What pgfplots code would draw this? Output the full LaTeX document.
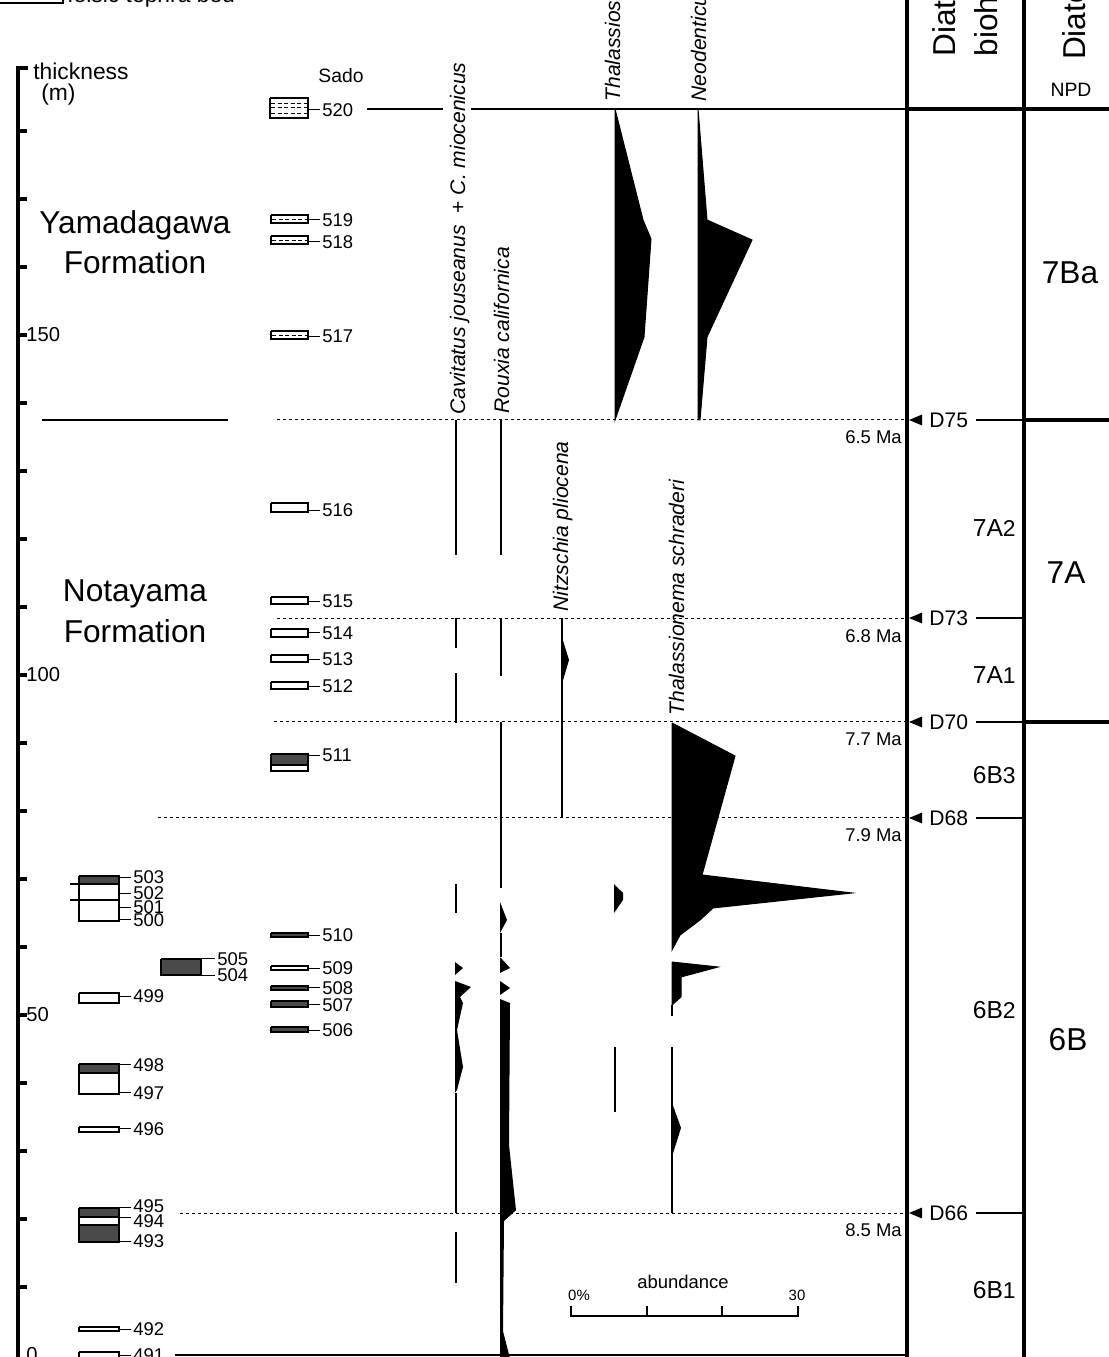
\documentclass[border=0pt]{standalone}
\usepackage{pgfplots}
\pgfplotsset{compat=1.18}
\usepackage{fontspec}
\setmainfont{Liberation Sans}
\definecolor{teph}{HTML}{4A4A4A}
\newcommand{\fs}[1]{\fontsize{#1}{#1}\selectfont}
% bed: x1 x2 ytop ybottom
\newcommand{\wbed}[4]{\addplot[draw=black, fill=white, line width=0.25mm] coordinates {(#1,#3) (#2,#3) (#2,#4) (#1,#4) (#1,#3)};}
\newcommand{\dbed}[4]{\addplot[draw=black, fill=teph, line width=0.25mm] coordinates {(#1,#3) (#2,#3) (#2,#4) (#1,#4) (#1,#3)};}
\newcommand{\hbed}[4]{\addplot[draw=black, fill=white, line width=0.25mm] coordinates {(#1,#3) (#2,#3) (#2,#4) (#1,#4) (#1,#3)};}
% leader: x1 x2 y label
\newcommand{\lab}[4]{\addplot[line width=0.2mm] coordinates {(#1,#3) (#2,#3)};
  \node[anchor=west, inner sep=0pt, font=\fs{10.5}] at (axis cs:#2,#3) {\hspace{0.4mm}#4};}
\newcommand{\seg}[3]{\addplot[line width=0.45mm] coordinates {(#1,#2) (#1,#3)};}
\newcommand{\dotl}[3]{\addplot[line width=0.2mm, dash pattern=on 0.6mm off 0.6mm] coordinates {(#1,#3) (#2,#3)};}
\newcommand{\tri}[1]{\addplot[fill=black, draw=none] coordinates {(909,#1) (922,#1+0.8) (922,#1-0.8) (909,#1)};}
\begin{document}
\begin{tikzpicture}
\begin{axis}[name=ax, width=221.6mm, height=271.4mm, scale only axis, hide axis,
  xmin=0, xmax=1108, ymin=-0.294, ymax=199.265, clip=false]

% ---------------- thickness axis ----------------
\addplot[line width=0.85mm] coordinates {(18,-2) (18,189.26) (28,189.26)};
\addplot[line width=0.65mm] coordinates {(18,10) (27,10)};
\addplot[line width=0.65mm] coordinates {(18,20) (27,20)};
\addplot[line width=0.65mm] coordinates {(18,30) (27,30)};
\addplot[line width=0.65mm] coordinates {(18,40) (27,40)};
\addplot[line width=0.65mm] coordinates {(18,50) (27,50)};
\addplot[line width=0.65mm] coordinates {(18,60) (27,60)};
\addplot[line width=0.65mm] coordinates {(18,70) (27,70)};
\addplot[line width=0.65mm] coordinates {(18,80) (27,80)};
\addplot[line width=0.65mm] coordinates {(18,90) (27,90)};
\addplot[line width=0.65mm] coordinates {(18,100) (27,100)};
\addplot[line width=0.65mm] coordinates {(18,110) (27,110)};
\addplot[line width=0.65mm] coordinates {(18,120) (27,120)};
\addplot[line width=0.65mm] coordinates {(18,130) (27,130)};
\addplot[line width=0.65mm] coordinates {(18,140) (27,140)};
\addplot[line width=0.65mm] coordinates {(18,150) (27,150)};
\addplot[line width=0.65mm] coordinates {(18,160) (27,160)};
\addplot[line width=0.65mm] coordinates {(18,170) (27,170)};
\addplot[line width=0.65mm] coordinates {(18,180) (27,180)};
\node[anchor=west, inner sep=0pt, font=\fs{11.5}] at (axis cs:26,0) {0};
\node[anchor=west, inner sep=0pt, font=\fs{11.5}] at (axis cs:26,50) {50};
\node[anchor=west, inner sep=0pt, font=\fs{11.5}] at (axis cs:26,100) {100};
\node[anchor=west, inner sep=0pt, font=\fs{11.5}] at (axis cs:26,150) {150};
\node[anchor=west, inner sep=0pt, font=\fs{13}] at (axis cs:33,188.8) {thickness};
\node[anchor=west, inner sep=0pt, font=\fs{13}] at (axis cs:41,185.4) {(m)};

% legend remnant
\addplot[draw=black, fill=white, line width=0.25mm] coordinates {(-5,198.82) (63,198.82) (63,203) (-5,203) (-5,198.82)};
\node[anchor=base west, inner sep=0pt, font=\fs{13}] at (axis cs:67,198.85) {felsic tephra bed};

% formations
\node[font=\fs{18}] at (axis cs:135,166.18) {Yamadagawa};
\node[font=\fs{18}] at (axis cs:135,160.74) {Formation};
\node[font=\fs{18}] at (axis cs:135,111.91) {Notayama};
\node[font=\fs{18}] at (axis cs:135,106.47) {Formation};
\addplot[line width=0.3mm] coordinates {(42,137.5) (228,137.5)};

% ---------------- Sado tephra column ----------------
\node[font=\fs{11}] at (axis cs:341,188.2) {Sado};
\hbed{270}{308}{184.85}{181.91}
\addplot[line width=0.15mm, dash pattern=on 0.8mm off 0.5mm] coordinates {(271,184.1) (307,184.1)};
\addplot[line width=0.15mm, dash pattern=on 0.8mm off 0.5mm] coordinates {(271,183.4) (307,183.4)};
\addplot[line width=0.15mm, dash pattern=on 0.8mm off 0.5mm] coordinates {(271,182.65) (307,182.65)};
\lab{308}{320}{183.09}{520}
\addplot[line width=0.3mm] coordinates {(367,183.24) (443,183.24)};
\addplot[line width=0.3mm] coordinates {(471,183.24) (907,183.24)};
\hbed{271}{308}{167.65}{166.47}
\addplot[line width=0.15mm, dash pattern=on 0.8mm off 0.5mm] coordinates {(272,167.06) (307,167.06)};
\lab{308}{320}{166.91}{519}
\hbed{271}{308}{164.56}{163.38}
\addplot[line width=0.15mm, dash pattern=on 0.8mm off 0.5mm] coordinates {(272,163.97) (307,163.97)};
\lab{308}{320}{163.68}{518}
\hbed{271}{308}{150.59}{149.41}
\addplot[line width=0.15mm, dash pattern=on 0.8mm off 0.5mm] coordinates {(272,150.0) (307,150.0)};
\lab{308}{320}{149.85}{517}
\wbed{271}{308}{125.29}{123.97}
\lab{308}{320}{124.26}{516}
\wbed{271}{308}{111.47}{110.44}
\lab{308}{320}{110.88}{515}
\wbed{271}{308}{106.76}{105.59}
\lab{308}{320}{106.18}{514}
\wbed{271}{308}{102.94}{101.91}
\lab{308}{320}{102.35}{513}
\wbed{271}{308}{98.97}{97.94}
\lab{308}{320}{98.38}{512}
\dbed{271}{308}{88.38}{86.76}
\wbed{271}{308}{86.76}{85.88}
\lab{308}{320}{88.2}{511}
\dbed{271}{308}{62.06}{61.47}
\lab{308}{320}{61.76}{510}
\wbed{271}{308}{57.21}{56.62}
\lab{308}{320}{56.91}{509}
\dbed{271}{308}{54.26}{53.68}
\lab{308}{320}{53.97}{508}
\dbed{271}{308}{52.06}{51.18}
\lab{308}{320}{51.47}{507}
\dbed{271}{308}{48.24}{47.5}
\lab{308}{320}{47.79}{506}

% ---------------- left tephra column ----------------
\dbed{79}{119}{70.44}{69.26}
\wbed{79}{119}{69.26}{63.82}
\addplot[line width=0.5mm] coordinates {(70,69.26) (119,69.26)};
\addplot[line width=0.5mm] coordinates {(70,66.91) (119,66.91)};
\lab{119}{131}{70.29}{503}
\lab{119}{131}{67.94}{502}
\lab{119}{131}{65.88}{501}
\lab{119}{131}{63.97}{500}
\dbed{161}{201}{58.24}{55.88}
\lab{201}{215}{58.24}{505}
\lab{201}{215}{55.88}{504}
\wbed{79}{119}{53.24}{51.76}
\lab{119}{131}{52.79}{499}
\dbed{79}{119}{42.79}{41.47}
\wbed{79}{119}{41.47}{38.38}
\lab{119}{131}{42.65}{498}
\lab{119}{131}{38.53}{497}
\wbed{79}{119}{33.53}{32.79}
\lab{119}{131}{33.24}{496}
\dbed{79}{119}{21.62}{20.29}
\wbed{79}{119}{20.29}{19.12}
\dbed{79}{119}{19.12}{16.62}
\addplot[line width=0.2mm] coordinates {(119,21.62) (131,21.62)};
\node[anchor=west, inner sep=0pt, font=\fs{10.5}] at (axis cs:131,21.95) {\hspace{0.4mm}495};
\addplot[line width=0.2mm] coordinates {(119,20.29) (131,20.29)};
\node[anchor=west, inner sep=0pt, font=\fs{10.5}] at (axis cs:131,19.75) {\hspace{0.4mm}494};
\lab{119}{131}{16.7}{493}
\wbed{79}{119}{4.12}{3.53}
\lab{119}{131}{3.82}{492}
\wbed{79}{119}{0.44}{-1}
\lab{119}{131}{0.0}{491}
\addplot[line width=0.3mm] coordinates {(175,0) (907,0)};

% ---------------- horizon lines ----------------
\dotl{277}{907}{137.5}
\dotl{277}{907}{108.38}
\dotl{274}{907}{93.09}
\dotl{158}{907}{78.97}
\dotl{180}{907}{20.88}

% ---------------- species labels ----------------
\node[rotate=90, anchor=base west, inner sep=0pt, font={\fs{12}\itshape}] at (axis cs:465,138.2) {Cavitatus jouseanus\ \ {\upshape +} C. miocenicus};
\node[rotate=90, anchor=base west, inner sep=0pt, font={\fs{12}\itshape}] at (axis cs:509,138.4) {Rouxia californica};
\node[rotate=90, anchor=base west, inner sep=0pt, font={\fs{12}\itshape}] at (axis cs:620,184.3) {Thalassiosira oestrupii};
\node[rotate=90, anchor=base west, inner sep=0pt, font={\fs{12}\itshape}] at (axis cs:706,184.3) {Neodenticula kamtschatica};
\node[rotate=90, anchor=base west, inner sep=0pt, font={\fs{12}\itshape}] at (axis cs:568,109.3) {Nitzschia pliocena};
\node[rotate=90, anchor=base west, inner sep=0pt, font={\fs{12}\itshape}] at (axis cs:684,94.0) {Thalassionema schraderi};

% ---------------- Cavitatus (x=456) ----------------
\seg{456}{137.5}{117.65}
\seg{456}{108.38}{103.97}
\seg{456}{100.29}{92.94}
\seg{456}{69.26}{65.0}
\seg{456}{38.6}{20.88}
\seg{456}{18.09}{10.59}
\addplot[fill=black, draw=none] coordinates {(455,57.79) (463,56.91) (455,55.88) (455,57.79)};
\addplot[fill=black, draw=none] coordinates {(455,55.0) (471,54.12) (460,52.65) (463,51.76) (457,47.79) (463,42.35) (457,38.97) (455,38.6) (455,55.0)};

% ---------------- Rouxia (x=501) ----------------
\seg{501}{137.5}{117.65}
\seg{501}{108.38}{99.85}
\seg{501}{93.09}{68.68}
\addplot[fill=black, draw=none] coordinates {(500,66.62) (507,63.97) (500,62.06) (500,66.62)};
\seg{501}{62.06}{58.53}
\addplot[fill=black, draw=none] coordinates {(500,58.53) (510,56.91) (500,56.18) (500,58.53)};
\addplot[fill=black, draw=none] coordinates {(500,55.0) (510,53.97) (500,52.94) (500,55.0)};
\addplot[fill=black, draw=none] coordinates {(500,52.35) (510,51.76) (509,30.9) (516,21.3) (504,19.7) (503,3.5) (510,-0.5) (500,-0.5) (500,52.35)};

% ---------------- Nitzschia (x=562) ----------------
\seg{562}{108.38}{78.97}
\addplot[fill=black, draw=none] coordinates {(561,106.0) (569,102.21) (561,98.2) (561,106.0)};

% ---------------- Thalassiosira (x=615) ----------------
\addplot[fill=black, draw=black, line width=0.2mm] coordinates {(615,183.24) (643,166.91) (651,164.12) (644,149.71) (615,137.5) (615,183.24)};
\addplot[fill=black, draw=none] coordinates {(614,69.26) (623,67.94) (623,66.91) (614,65.0) (614,69.26)};
\seg{615}{45.29}{35.74}

% ---------------- Neodenticula (x=698) ----------------
\addplot[fill=black, draw=black, line width=0.2mm] coordinates {(698,183.24) (707,166.91) (752,163.97) (707,149.71) (700,137.5) (698,137.5) (698,183.24)};

% ---------------- Thalassionema (x=672) ----------------
\addplot[fill=black, draw=black, line width=0.2mm] coordinates {(672,92.94) (735,88.09) (702,70.59) (852,67.94) (713,65.74) (700,63.97) (680,61.76) (672,59.56) (672,92.94)};
\addplot[fill=black, draw=black, line width=0.2mm] coordinates {(672,57.79) (718,57.06) (681,55.59) (681,52.65) (672,51.47) (672,57.79)};
\seg{672}{51.47}{49.85}
\seg{672}{45.29}{20.88}
\addplot[fill=black, draw=none] coordinates {(671,37.5) (681,33.4) (671,28.7) (671,37.5)};

% ---------------- abundance scale ----------------
\addplot[line width=0.4mm] coordinates {(571,7.21) (571,5.74) (798,5.74) (798,7.21)};
\addplot[line width=0.4mm] coordinates {(647,5.74) (647,7.21)};
\addplot[line width=0.4mm] coordinates {(722,5.74) (722,7.21)};
\node[font=\fs{8.5}] at (axis cs:579,8.82) {0\%};
\node[font=\fs{8.5}] at (axis cs:797,8.82) {30};
\node[font=\fs{10.5}] at (axis cs:683,10.74) {abundance};

% ---------------- zone columns ----------------
\addplot[line width=0.8mm] coordinates {(907,-2) (907,202)};
\addplot[line width=0.8mm] coordinates {(1024,-2) (1024,202)};
\addplot[line width=0.8mm] coordinates {(907,183.24) (1110,183.24)};
\node[rotate=90, anchor=base west, inner sep=0pt, font=\fs{18}] at (axis cs:955,190.9) {Diatom};
\node[rotate=90, anchor=base west, inner sep=0pt, font=\fs{18}] at (axis cs:997,190.9) {biohorizon};
\node[rotate=90, anchor=base west, inner sep=0pt, font=\fs{18}] at (axis cs:1085,190.4) {Diatom zone};
\node[font=\fs{11}] at (axis cs:1071,186.0) {NPD};

\tri{137.5}
\tri{108.38}
\tri{93.09}
\tri{78.97}
\tri{20.88}
\node[anchor=west, inner sep=0pt, font=\fs{12}] at (axis cs:929,137.5) {D75};
\node[anchor=west, inner sep=0pt, font=\fs{12}] at (axis cs:929,108.38) {D73};
\node[anchor=west, inner sep=0pt, font=\fs{12}] at (axis cs:929,93.09) {D70};
\node[anchor=west, inner sep=0pt, font=\fs{12}] at (axis cs:929,78.97) {D68};
\node[anchor=west, inner sep=0pt, font=\fs{12}] at (axis cs:929,20.88) {D66};
\addplot[line width=0.55mm] coordinates {(976,137.5) (1024,137.5)};
\addplot[line width=0.55mm] coordinates {(976,108.38) (1024,108.38)};
\addplot[line width=0.55mm] coordinates {(976,93.09) (1024,93.09)};
\addplot[line width=0.55mm] coordinates {(976,78.97) (1024,78.97)};
\addplot[line width=0.55mm] coordinates {(976,20.88) (1024,20.88)};
\addplot[line width=0.85mm] coordinates {(1024,137.5) (1110,137.5)};
\addplot[line width=0.85mm] coordinates {(1024,93.09) (1110,93.09)};

\node[anchor=east, inner sep=0pt, font=\fs{10.5}] at (axis cs:902,135.0) {6.5 Ma};
\node[anchor=east, inner sep=0pt, font=\fs{10.5}] at (axis cs:902,105.74) {6.8 Ma};
\node[anchor=east, inner sep=0pt, font=\fs{10.5}] at (axis cs:902,90.59) {7.7 Ma};
\node[anchor=east, inner sep=0pt, font=\fs{10.5}] at (axis cs:902,76.47) {7.9 Ma};
\node[anchor=east, inner sep=0pt, font=\fs{10.5}] at (axis cs:902,18.38) {8.5 Ma};

\node[anchor=east, inner sep=0pt, font=\fs{14}] at (axis cs:1016,121.62) {7A{\fs{13}2}};
\node[anchor=east, inner sep=0pt, font=\fs{14}] at (axis cs:1016,100.0) {7A{\fs{13}1}};
\node[anchor=east, inner sep=0pt, font=\fs{14}] at (axis cs:1016,85.29) {6B{\fs{13}3}};
\node[anchor=east, inner sep=0pt, font=\fs{14}] at (axis cs:1016,50.74) {6B{\fs{13}2}};
\node[anchor=east, inner sep=0pt, font=\fs{14}] at (axis cs:1016,9.56) {6B{\fs{13}1}};
\node[font=\fs{18}] at (axis cs:1070,159.12) {7Ba};
\node[font=\fs{18}] at (axis cs:1066,115.0) {7A};
\node[font=\fs{18}] at (axis cs:1068,46.32) {6B};
\end{axis}
\pgfresetboundingbox
\useasboundingbox (ax.south west) rectangle (ax.north east);
\end{tikzpicture}
\end{document}
